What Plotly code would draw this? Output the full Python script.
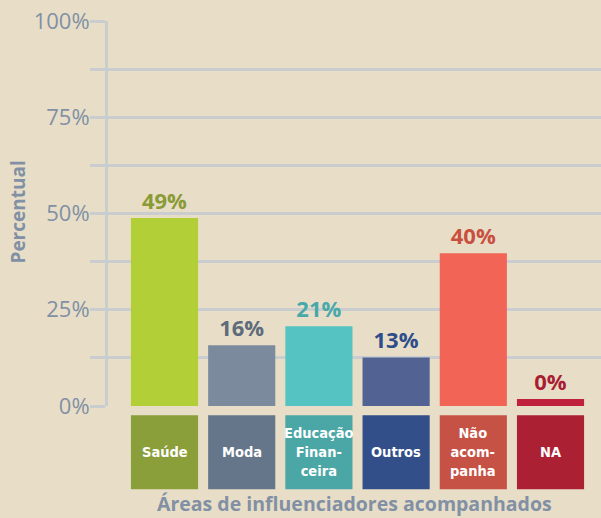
import plotly.graph_objects as go

categories = ["Saúde", "Moda", "Educação<br>Finan-<br>ceira", "Outros", "Não<br>acom-<br>panha", "NA"]
values = [48.8, 15.8, 20.7, 12.6, 39.7, 1.8]
value_labels = ["49%", "16%", "21%", "13%", "40%", "0%"]
y_tick_vals = [0, 12.5, 25, 37.5, 50, 62.5, 75, 87.5, 100]
y_tick_text = ["0%", "", "25%", "", "50%", "", "75%", "", "100%"]

bar_colors = ["#b3cf37", "#7c8a9d", "#55c3c1", "#516293", "#f26455", "#c1223b"]
label_colors = ["#8a9b36", "#5e6b7b", "#47a9a9", "#2f4d8a", "#c9503f", "#a81e33"]
box_colors = ["#8a9e3a", "#66768a", "#4ba6a6", "#324f8a", "#c65245", "#ab2133"]

BG = "#e8dec8"
GRID = "#c9cdd0"
AXTXT = "#8190a4"
BAR_W = 0.87

xs = list(range(len(categories)))

fig = go.Figure(go.Bar(
    x=xs, y=values, width=BAR_W,
    marker=dict(color=bar_colors, line=dict(width=0)),
    text=value_labels, textposition="outside",
    textfont=dict(color=label_colors, size=22, family="Open Sans", weight=700),
    cliponaxis=False, hoverinfo="skip",
))

box_y0 = -0.024
box_y1 = -0.216
for i, (cat, col) in enumerate(zip(categories, box_colors)):
    fig.add_shape(type="rect", xref="x", yref="paper",
                  x0=i - BAR_W / 2, x1=i + BAR_W / 2, y0=box_y0, y1=box_y1,
                  fillcolor=col, line=dict(width=0), layer="above")
    fig.add_annotation(x=i, y=(box_y0 + box_y1) / 2, xref="x", yref="paper",
                       xanchor="center", yanchor="middle",
                       text=cat, showarrow=False,
                       font=dict(color="white", size=14.5,
                                 family="DejaVu Sans Condensed, Roboto",
                                 weight=700))

fig.add_annotation(x=0.5, y=-0.252, xref="paper", yref="paper",
                   xanchor="center", yanchor="middle",
                   text="Áreas de influenciadores acompanhados", showarrow=False,
                   font=dict(color=AXTXT, size=19.5, family="Open Sans", weight=700))
fig.add_annotation(x=-0.1826, y=0.505, xref="paper", yref="paper",
                   xanchor="center", yanchor="middle",
                   text="Percentual", showarrow=False, textangle=-90,
                   font=dict(color=AXTXT, size=19, family="Open Sans", weight=700))

fig.update_layout(
    width=601, height=518,
    margin=dict(l=108, r=0, t=21, b=112),
    paper_bgcolor=BG, plot_bgcolor=BG,
    showlegend=False,
    xaxis=dict(range=[-0.732, 5.654], showgrid=False, showticklabels=False,
               zeroline=False, showline=False, ticks=""),
    yaxis=dict(range=[0, 100], tickvals=y_tick_vals, ticktext=y_tick_text,
               showgrid=True, gridcolor=GRID, gridwidth=2.5,
               ticks="outside", ticklen=15, tickcolor=GRID, tickwidth=2.5,
               ticklabelstandoff=-4,
               showline=True, linecolor=GRID, linewidth=3, zeroline=False,
               tickfont=dict(size=22, color=AXTXT, family="Open Sans", weight=500)),
)

fig.write_html("out.html", config={"displayModeBar": False},
               post_script="document.body.style.margin='0';document.body.style.padding='0';")
